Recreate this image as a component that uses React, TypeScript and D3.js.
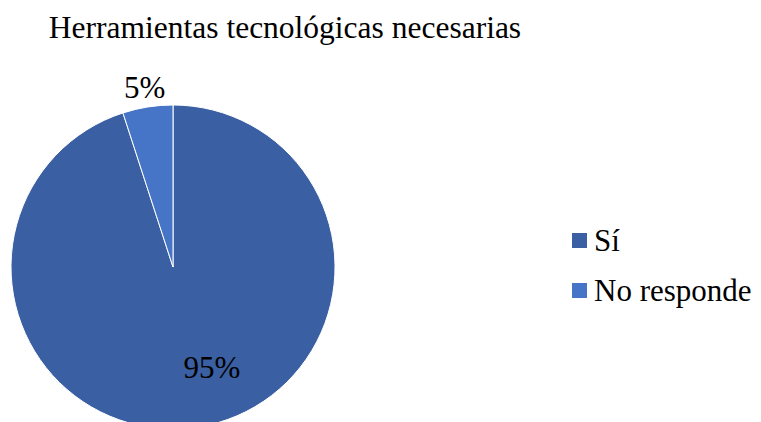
import React from "react";
import * as d3 from "d3";

const categories = ["Sí", "No responde"];
const values = [95, 5];
const colors = ["#3A5FA2", "#4675C8"];
const title = "Herramientas tecnológicas necesarias";

export default function App() {
  const W = 761, H = 422;
  const cx = 173, cy = 267, R = 162;
  const data = categories.map((c, i) => ({ c, v: values[i], col: colors[i] }));
  const pie = d3.pie<any>().value((d) => d.v).sort(null);
  const arcs = pie(data);
  const arc = d3.arc<any>().innerRadius(0).outerRadius(R);
  const total = d3.sum(values);
  const ts: React.CSSProperties = { fontFamily: "'Liberation Serif', 'Times New Roman', serif", fontSize: "31px" };
  const labelPos = (a: any, i: number) => {
    const mid = (a.startAngle + a.endAngle) / 2;
    if (i === 0) {
      const r = 101;
      return [Math.sin(mid) * r + 23, -Math.cos(mid) * r];
    }
    const r = 182;
    return [Math.sin(mid) * r, -Math.cos(mid) * r];
  };
  return (
    <svg width={W} height={H} style={{ position: "absolute", left: 0, top: 0, background: "#fff" }}>
      <text x={285} y={38} style={{ ...ts, fontSize: "31.5px" }} textAnchor="middle" fill="#000">{title}</text>
      <g transform={`translate(${cx},${cy})`}>
        {arcs.map((a, i) => (
          <path key={i} d={arc(a) as string} fill={a.data.col} stroke="#fff" strokeWidth={1} />
        ))}
        {arcs.map((a, i) => {
          const [x, y] = labelPos(a, i);
          return (
            <text key={"l" + i} x={x} y={y} dy="0.35em" style={ts} textAnchor="middle" fill="#000">
              {Math.round((a.data.v / total) * 100) + "%"}
            </text>
          );
        })}
      </g>
      {data.map((d, i) => (
        <g key={"lg" + i} transform={`translate(572, ${251 + i * 50})`}>
          <rect x={0} y={-18} width={15} height={15} fill={d.col} />
          <text x={22} y={0} style={ts} fill="#000">{d.c}</text>
        </g>
      ))}
    </svg>
  );
}
